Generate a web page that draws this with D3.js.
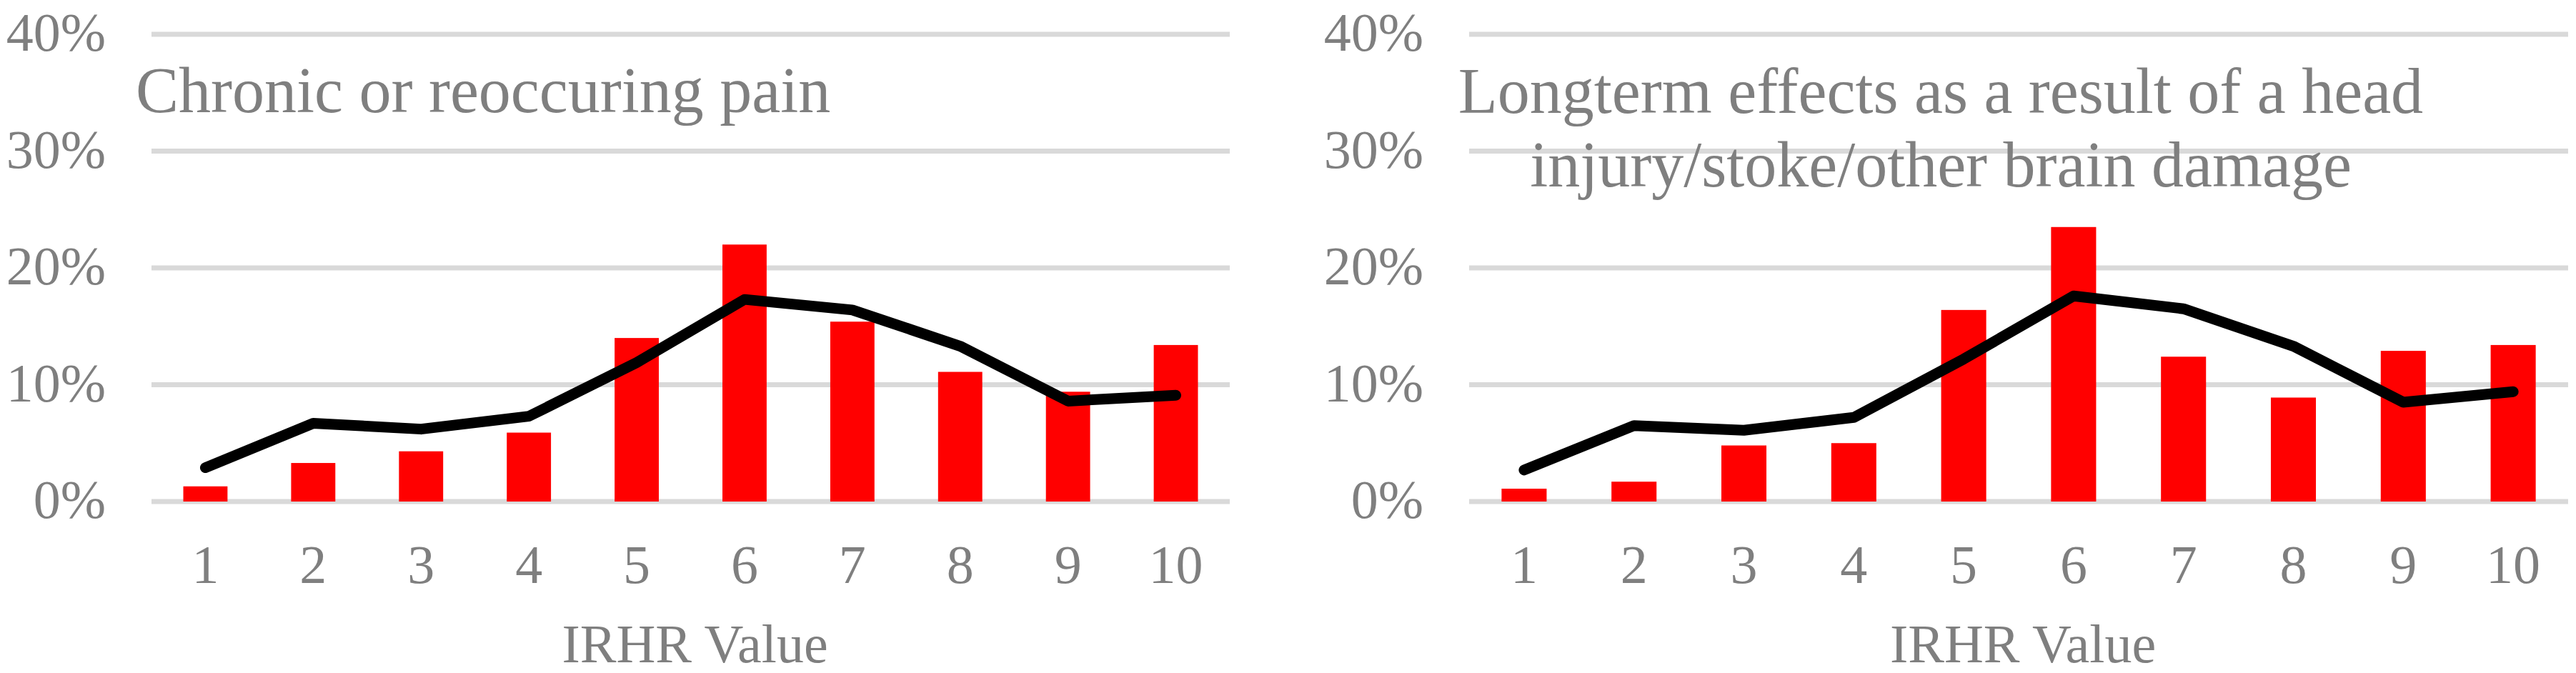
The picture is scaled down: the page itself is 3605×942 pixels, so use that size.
<!DOCTYPE html>
<html><head><meta charset="utf-8">
<script src="https://cdn.jsdelivr.net/npm/d3@7"></script>
<style>body{margin:0;background:#fff}</style></head>
<body><svg id="c" width="3605" height="942"></svg>
<script>
const categories = ["1","2","3","4","5","6","7","8","9","10"];
const yTicks = [0, 0.1, 0.2, 0.3, 0.4];
const leftTitle = ["Chronic or reoccuring pain"];
const rightTitle = ["Longterm effects as a result of a head", "injury/stoke/other brain damage"];
const leftBars = [0.013, 0.033, 0.043, 0.059, 0.140, 0.220, 0.154, 0.111, 0.094, 0.134];
const leftLine = [0.029, 0.067, 0.062, 0.073, 0.119, 0.173, 0.164, 0.133, 0.086, 0.091];
const rightBars = [0.011, 0.017, 0.048, 0.050, 0.164, 0.235, 0.124, 0.089, 0.129, 0.134];
const rightLine = [0.027, 0.065, 0.061, 0.072, 0.122, 0.176, 0.165, 0.133, 0.085, 0.094];
const xTitle = "IRHR Value";

const svg = d3.select("#c");
const font = "'Liberation Serif','Times New Roman',serif";
const grey = "#7f7f7f";

function panel(x0, x1, bars, line, title, titleOpts) {
  const g = svg.append("g");
  const x = d3.scaleBand().domain(categories).range([x0, x1]).paddingInner(0.59).paddingOuter(0.295);
  const y = d3.scaleLinear().domain([0, 0.4]).range([702, 48]);
  g.selectAll(".grid").data(yTicks).join("line")
    .attr("x1", x0).attr("x2", x1).attr("y1", d => y(d)).attr("y2", d => y(d))
    .attr("stroke", "#d9d9d9").attr("stroke-width", 7);
  g.selectAll(".yl").data(yTicks).join("text")
    .attr("x", x0 - 64).attr("y", d => y(d) + 23).attr("text-anchor", "end")
    .attr("font-family", font).attr("font-size", 76).attr("fill", grey)
    .text(d => d3.format(".0%")(d));
  g.selectAll(".bar").data(bars).join("rect")
    .attr("x", (d, i) => x(categories[i])).attr("width", x.bandwidth())
    .attr("y", d => y(d)).attr("height", d => y(0) - y(d)).attr("fill", "#ff0000");
  const cx = i => x(categories[i]) + x.bandwidth() / 2;
  g.append("path").datum(line)
    .attr("d", d3.line().x((d, i) => cx(i)).y(d => y(d)))
    .attr("fill", "none").attr("stroke", "#000").attr("stroke-width", 15)
    .attr("stroke-linecap", "round").attr("stroke-linejoin", "round");
  g.selectAll(".xl").data(categories).join("text")
    .attr("x", (d, i) => cx(i)).attr("y", 816).attr("text-anchor", "middle")
    .attr("font-family", font).attr("font-size", 76).attr("fill", grey).text(d => d);
  g.append("text").attr("x", (x0 + x1) / 2 + 6).attr("y", 927).attr("text-anchor", "middle")
    .attr("font-family", font).attr("font-size", 76).attr("fill", grey).text(xTitle);
  title.forEach((t, i) => {
    g.append("text").attr("x", titleOpts.x).attr("y", titleOpts.y + i * 103)
      .attr("text-anchor", titleOpts.anchor)
      .attr("font-family", font).attr("font-size", 90).attr("fill", grey).text(t);
  });
}
panel(212, 1721, leftBars, leftLine, leftTitle, {x: 190, y: 157, anchor: "start"});
panel(2056, 3594, rightBars, rightLine, rightTitle, {x: 2716, y: 158, anchor: "middle"});
</script></body></html>
